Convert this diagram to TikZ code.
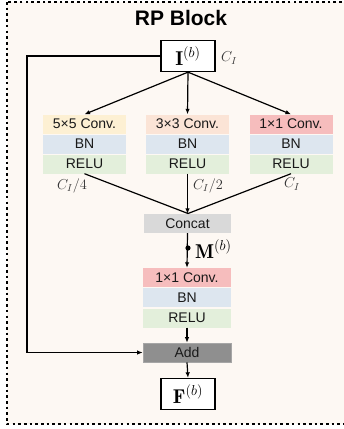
\documentclass[tikz,border=0pt]{standalone}
\usepackage{fontspec}
\setsansfont{Liberation Sans}
\usetikzlibrary{arrows.meta,calc}
\definecolor{bgc}{HTML}{FDF8F3}
\definecolor{cfive}{HTML}{FDF0D3}
\definecolor{cthree}{HTML}{FBE4D6}
\definecolor{cone}{HTML}{F6BDBD}
\definecolor{cbn}{HTML}{DDE6EF}
\definecolor{crelu}{HTML}{E3EFDB}
\definecolor{cconcat}{HTML}{D9D9D9}
\definecolor{cadd}{HTML}{8F8F8F}
\tikzset{
  layer/.style={minimum width=83pt, minimum height=19pt, inner sep=0pt,
    font=\sffamily\fontsize{14}{16}\selectfont, text=black!90},
  featbox/.style={draw, line width=1.3pt, fill=white, minimum width=54pt, minimum height=31pt, inner sep=0pt},
  conn/.style={line width=1.2pt},
  arr/.style={conn, -{Latex[length=5.5pt,width=4.5pt]}},
  dimlab/.style={font=\fontsize{14.5}{16}\selectfont, inner sep=0pt, text=black!80}
}
\begin{document}
\begin{tikzpicture}[x=1pt,y=-1pt]
\useasboundingbox (0,0) rectangle (344,429);
\fill[bgc] (7,2) rectangle (346,424);
\draw[line width=2.8pt, dash pattern=on 2.6pt off 3.1pt] (7,2) rectangle (348,424);
\node[font=\sffamily\bfseries\fontsize{21}{24}\selectfont] (title) at (181,18) {RP Block};

\node[featbox] (I) at (188,56) {\fontsize{20}{22}\selectfont$\mathbf{I}^{(b)}$};
\node[dimlab, anchor=west] (ci) at (221,58) {$C_I$};

% left branch
\node[layer, fill=cfive] (lconv) at (84.5,124) {5×5 Conv.};
\node[layer, fill=cbn] (lbn) at (84.5,144) {BN};
\node[layer, fill=crelu] (lrelu) at (84.5,164) {RELU};
% middle branch
\node[layer, fill=cthree] (mconv) at (187.5,124) {3×3 Conv.};
\node[layer, fill=cbn] (mbn) at (187.5,144) {BN};
\node[layer, fill=crelu] (mrelu) at (187.5,164) {RELU};
% right branch
\node[layer, fill=cone] (rconv) at (291,124) {1×1 Conv.};
\node[layer, fill=cbn] (rbn) at (291,144) {BN};
\node[layer, fill=crelu] (rrelu) at (291,164) {RELU};

\node[dimlab] (l4) at (72,186) {$C_I/4$};
\node[dimlab] (l2) at (208,186) {$C_I/2$};
\node[dimlab] (l1) at (292,184) {$C_I$};

\node[layer, fill=cconcat, minimum width=87pt] (concat) at (187.5,223.5) {Concat};
\coordinate (dot) at (188,248);
\fill (dot) circle (2.6pt);
\node[anchor=west, inner sep=0pt] (mlab) at (195,249) {\fontsize{20}{22}\selectfont$\mathbf{M}^{(b)}$};

\node[layer, fill=cone, minimum width=88pt] (cconv) at (187,277.5) {1×1 Conv.};
\node[layer, fill=cbn, minimum width=88pt] (cbnn) at (187,297.5) {BN};
\node[layer, fill=crelu, minimum width=88pt] (crelun) at (187,318) {RELU};

\node[layer, fill=cadd, draw=black!35, line width=0.6pt, minimum width=88pt] (add) at (187,352.5) {Add};
\node[featbox] (F) at (188,394) {\fontsize{20}{22}\selectfont$\mathbf{F}^{(b)}$};

\coordinate (top) at (188,213.5);
\draw[arr] (I.south) -- (lconv.north);
\draw[arr] (I.south) -- (mconv.north);
\draw[arr] (I.south) -- (rconv.north);
\draw[conn] (lrelu.south) -- (top);
\draw[conn] (rrelu.south) -- (top);
\draw[arr] (mrelu.south) -- (concat.north);
\draw[arr] (concat.south) -- (cconv.north);
\draw[arr] (crelun.south) -- (add.north);
\draw[arr] (add.south) -- (F.north);
\draw[arr] (I.west) -- (27,56) |- (add.west);
\end{tikzpicture}
\end{document}
